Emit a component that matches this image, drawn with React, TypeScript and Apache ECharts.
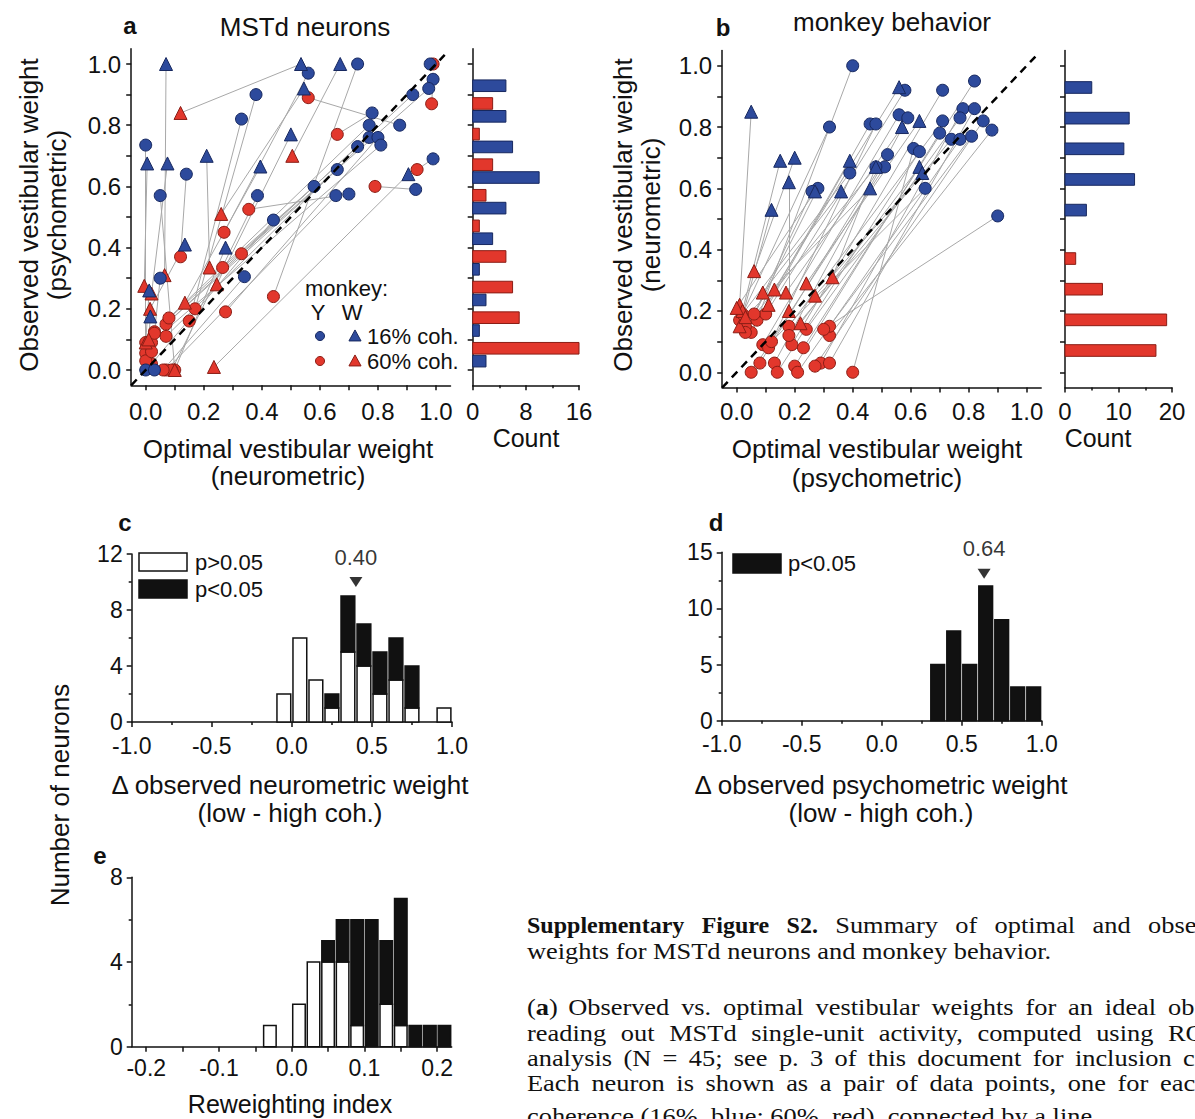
import React, { useEffect, useRef } from "react";
import * as echarts from "echarts";

const FONT = '"Liberation Sans", Arial, sans-serif';
const SERIF_NAME = "Liberation Serif";
const SERIF = '"Liberation Serif", "Times New Roman", serif';
const BLUE = "#2d4a9c";
const BLUE_EDGE = "#17285f";
const RED = "#e2372c";
const RED_EDGE = "#8a1d15";
const GRAY = "#a8a8a8";
const INK = "#111111";

// ---------- Panel a: MSTd neurons  [opt16, obs16, opt60, obs60] ----------
const neuronPairsY = [
  [0.73, 1.0, 0.44, 0.24], [0.98, 1.0, 0.99, 1.0], [0.56, 0.97, 0.27, 0.45],
  [0.38, 0.9, 0.17, 0.2], [0.99, 0.95, 0.985, 0.87], [0.975, 0.92, 0.33, 0.38],
  [0.92, 0.9, 0.07, 0.15], [0.33, 0.82, 0.15, 0.16], [0.78, 0.84, 0.66, 0.77],
  [0.77, 0.8, 0.08, 0.17], [0.875, 0.8, 0.56, 0.89], [0.77, 0.76, 0.07, 0.11],
  [0.8, 0.76, 0.275, 0.19], [0.73, 0.73, 0.03, 0.125], [0.81, 0.735, 0.02, 0.09],
  [0.0, 0.735, 0.0, 0.055], [0.14, 0.64, 0.12, 0.37], [0.99, 0.69, 0.935, 0.655],
  [0.66, 0.655, 0.0, 0.09], [0.58, 0.6, 0.265, 0.335], [0.655, 0.57, 0.07, 0.0],
  [0.7, 0.575, 0.355, 0.525], [0.93, 0.59, 0.79, 0.6], [0.05, 0.57, 0.1, 0.0],
  [0.385, 0.57, 0.09, 0.0], [0.44, 0.49, 0.02, 0.02], [0.05, 0.3, 0.03, 0.12],
  [0.34, 0.305, 0.06, 0.0], [0.0, 0.0, 0.0, 0.03], [0.03, 0.0, 0.02, 0.06],
];
const neuronPairsW = [
  [0.07, 1.0, 0.065, 0.31], [0.535, 1.0, 0.12, 0.84], [0.67, 1.0, 0.505, 0.7],
  [0.545, 0.92, 0.26, 0.51], [0.5, 0.77, 0.245, 0.28], [0.21, 0.7, 0.22, 0.335],
  [0.005, 0.675, -0.005, 0.275], [0.075, 0.675, 0.02, 0.25], [0.395, 0.665, 0.135, 0.22],
  [0.905, 0.64, 0.235, 0.01], [0.135, 0.41, 0.015, 0.2], [0.275, 0.4, 0.1, 0.0],
  [0.012, 0.26, 0.0, 0.09], [0.016, 0.175, 0.01, 0.1],
];

// ---------- Panel b: monkey behavior  [opt16, obs16, opt60, obs60] ----------
const behaviorPairsY = [
  [0.4, 1.0, 0.07, 0.17], [0.82, 0.95, 0.23, 0.08], [0.71, 0.92, 0.19, 0.09],
  [0.58, 0.92, 0.1, 0.19], [0.78, 0.86, 0.29, 0.03], [0.82, 0.86, 0.32, 0.03],
  [0.77, 0.83, 0.24, 0.14], [0.85, 0.82, 0.27, 0.02], [0.88, 0.79, 0.32, 0.12],
  [0.71, 0.82, 0.18, 0.15], [0.56, 0.84, 0.09, 0.09], [0.59, 0.83, 0.13, 0.03],
  [0.46, 0.81, 0.05, 0.13], [0.48, 0.81, 0.11, 0.08], [0.32, 0.8, 0.01, 0.17],
  [0.7, 0.78, 0.2, 0.02], [0.74, 0.76, 0.18, 0.12], [0.77, 0.76, 0.21, 0.0],
  [0.81, 0.77, 0.32, 0.15], [0.61, 0.73, 0.4, 0.0], [0.63, 0.72, 0.14, 0.0],
  [0.52, 0.71, 0.08, 0.03], [0.51, 0.67, 0.05, 0.0], [0.48, 0.67, 0.03, 0.15],
  [0.39, 0.65, 0.02, 0.19], [0.28, 0.6, 0.03, 0.13], [0.65, 0.6, 0.12, 0.1],
  [0.9, 0.51, 0.3, 0.14], [0.26, 0.59, 0.06, 0.19],
];
const behaviorPairsW = [
  [0.05, 0.85, 0.01, 0.22], [0.56, 0.93, 0.13, 0.27], [0.63, 0.82, 0.24, 0.29],
  [0.57, 0.8, 0.17, 0.26], [0.15, 0.69, 0.02, 0.2], [0.2, 0.7, 0.06, 0.33],
  [0.18, 0.62, 0.18, 0.2], [0.12, 0.53, 0.01, 0.15], [0.39, 0.69, 0.11, 0.22],
  [0.48, 0.67, 0.33, 0.31], [0.63, 0.67, 0.22, 0.16], [0.64, 0.65, 0.27, 0.25],
  [0.46, 0.6, 0.03, 0.18], [0.36, 0.59, 0.09, 0.26], [0.27, 0.59, 0.0, 0.21],
];

// ---------- Marginal histograms (bins of observed weight) ----------
const weightBins = [0.0, 0.1, 0.2, 0.3, 0.4, 0.5, 0.6, 0.7, 0.8, 0.9];
const histA16 = [2, 1, 2, 1, 3, 5, 10, 6, 5, 5];
const histA60 = [16, 7, 6, 5, 1, 2, 3, 1, 3, 0];
const histB16 = [0, 0, 0, 0, 0, 4, 13, 11, 12, 5];
const histB60 = [17, 19, 7, 2, 0, 0, 0, 0, 0, 0];

// ---------- Panel c ----------
const cBinStart = [-0.1, 0.0, 0.1, 0.2, 0.3, 0.4, 0.5, 0.6, 0.7, 0.8, 0.9];
const cBinWidth = 0.1;
const cNotSig = [2, 6, 3, 1, 5, 4, 2, 3, 1, 0, 1];
const cSig = [0, 0, 0, 1, 4, 3, 3, 3, 3, 0, 0];
const cMean = 0.4;
const cMeanHeight = 10;

// ---------- Panel d ----------
const dBinStart = [0.3, 0.4, 0.5, 0.6, 0.7, 0.8, 0.9];
const dBinWidth = 0.1;
const dSig = [5, 8, 5, 12, 9, 3, 3];
const dMean = 0.64;
const dMeanHeight = 13.1;

// ---------- Panel e ----------
const eBinStart = [-0.04, -0.02, 0.0, 0.02, 0.04, 0.06, 0.08, 0.1, 0.12, 0.14, 0.16, 0.18, 0.2];
const eBinWidth = 0.02;
const eNotSig = [1, 0, 2, 4, 4, 4, 1, 0, 2, 1, 0, 0, 0];
const eSig = [0, 0, 0, 0, 1, 2, 5, 6, 3, 6, 1, 1, 1];

// ---------- Tick values ----------
const weightTicks = [0, 0.1, 0.2, 0.3, 0.4, 0.5, 0.6, 0.7, 0.8, 0.9, 1.0];
const weightLabels = [0, 0.2, 0.4, 0.6, 0.8, 1.0];
const eTicks = [-0.2, -0.15, -0.1, -0.05, 0, 0.05, 0.1, 0.15, 0.2];
const eLabels = [-0.2, -0.1, 0, 0.1, 0.2];

// ---------- Caption (justified text, words; "*" = bold) ----------
const captionWords = [
  ["*Supplementary", "*Figure", "*S2.", "Summary", "of", "optimal", "and", "observed"],
  ["weights", "for", "MSTd", "neurons", "and", "monkey", "behavior."],
  [],
  ["(a)", "Observed", "vs.", "optimal", "vestibular", "weights", "for", "an", "ideal", "observer"],
  ["reading", "out", "MSTd", "single-unit", "activity,", "computed", "using", "ROC"],
  ["analysis", "(N", "=", "45;", "see", "p.", "3", "of", "this", "document", "for", "inclusion", "criteria)."],
  ["Each", "neuron", "is", "shown", "as", "a", "pair", "of", "data", "points,", "one", "for", "each"],
  ["coherence", "(16%,", "blue;", "60%,", "red),", "connected", "by", "a", "line."],
];
// layout: x where the last word of a justified line starts (null = ragged line)
const captionLastWordX = [1148, null, null, 1168, 1168, 1183, 1160, null];
const captionY = [925, 951, 979, 1007, 1033, 1058, 1083, 1116];
const CAPTION_SIZE = 24;
const CAPTION_SX = 1.1;
const CAPTION_LEFT = 527;

function axis(gridIndex: number, min: number, max: number, opts: any = {}) {
  const fs = opts.fontSize || 24;
  return {
    type: "value",
    gridIndex,
    min,
    max,
    interval: opts.interval,
    splitLine: { show: false },
    axisLine: { show: true, onZero: false, lineStyle: { color: INK, width: 1.5 } },
    axisTick: {
      show: true,
      length: 5,
      lineStyle: { color: INK, width: 1.5 },
      ...(opts.tickValues ? { customValues: opts.tickValues } : {}),
    },
    minorTick: opts.minor
      ? { show: true, splitNumber: 2, length: 3, lineStyle: { color: INK, width: 1.5 } }
      : { show: false },
    axisLabel: {
      show: opts.noLabel ? false : true,
      color: INK,
      fontSize: fs,
      lineHeight: fs,
      fontFamily: FONT,
      margin: opts.margin ?? 10,
      formatter: opts.fmt,
      ...(opts.labelValues ? { customValues: opts.labelValues } : {}),
    },
  };
}

const fmt1 = (v: number) => (Math.abs(v) < 1e-9 ? "0.0" : v.toFixed(1));

function hBar(color: string, edge: string, lo: number, hi: number) {
  return (params: any, api: any) => {
    const b = api.value(0);
    const c = api.value(1);
    if (!c) return null;
    const p0 = api.coord([0, b + hi]);
    const p1 = api.coord([c, b + lo]);
    return {
      type: "rect",
      shape: { x: p0[0], y: p0[1], width: p1[0] - p0[0], height: p1[1] - p0[1] },
      style: { fill: color, stroke: edge, lineWidth: 1 },
    };
  };
}

function vBar(params: any, api: any) {
  const s = api.value(0);
  const w = api.value(1);
  const ns = api.value(2);
  const sg = api.value(3);
  const inset = w * 0.07;
  const x0 = api.coord([s + inset, 0])[0];
  const x1 = api.coord([s + w - inset, 0])[0];
  const y0 = api.coord([s, 0])[1];
  const yN = api.coord([s, ns])[1];
  const yT = api.coord([s, ns + sg])[1];
  const children: any[] = [];
  if (ns > 0)
    children.push({
      type: "rect",
      shape: { x: x0, y: yN, width: x1 - x0, height: y0 - yN },
      style: { fill: "#ffffff", stroke: INK, lineWidth: 1.5 },
    });
  if (sg > 0)
    children.push({
      type: "rect",
      shape: { x: x0, y: yT, width: x1 - x0, height: yN - yT },
      style: { fill: INK, stroke: INK, lineWidth: 1.5 },
    });
  return { type: "group", children };
}

function scatterSet(pairsY: number[][], pairsW: number[][], ax: number) {
  const base = { type: "scatter", xAxisIndex: ax, yAxisIndex: ax, silent: true };
  return [
    {
      type: "lines",
      coordinateSystem: "cartesian2d",
      xAxisIndex: ax,
      yAxisIndex: ax,
      silent: true,
      lineStyle: { color: GRAY, width: 1, opacity: 1 },
      data: [...pairsY, ...pairsW].map((p) => ({ coords: [[p[0], p[1]], [p[2], p[3]]] })),
    },
    {
      type: "line",
      xAxisIndex: ax,
      yAxisIndex: ax,
      silent: true,
      showSymbol: false,
      symbol: "none",
      lineStyle: { color: "#000", width: 2.5, type: [8, 6] },
      data: [[-0.05, -0.05], [1.03, 1.03]],
    },
    {
      ...base,
      symbol: "circle",
      symbolSize: 12,
      itemStyle: { color: RED, borderColor: RED_EDGE, borderWidth: 1, opacity: 1 },
      data: pairsY.map((p) => [p[2], p[3]]),
    },
    {
      ...base,
      symbol: "triangle",
      symbolSize: 13,
      itemStyle: { color: RED, borderColor: RED_EDGE, borderWidth: 1, opacity: 1 },
      data: pairsW.map((p) => [p[2], p[3]]),
    },
    {
      ...base,
      symbol: "circle",
      symbolSize: 12,
      itemStyle: { color: BLUE, borderColor: BLUE_EDGE, borderWidth: 1, opacity: 1 },
      data: pairsY.map((p) => [p[0], p[1]]),
    },
    {
      ...base,
      symbol: "triangle",
      symbolSize: 13,
      itemStyle: { color: BLUE, borderColor: BLUE_EDGE, borderWidth: 1, opacity: 1 },
      data: pairsW.map((p) => [p[0], p[1]]),
    },
  ];
}

function histSet(h16: number[], h60: number[], ax: number) {
  return [
    {
      type: "custom",
      xAxisIndex: ax,
      yAxisIndex: ax,
      silent: true,
      encode: { x: 1, y: 0 },
      renderItem: hBar(BLUE, BLUE_EDGE, 0.01, 0.048),
      data: weightBins.map((b, i) => [b, h16[i]]),
    },
    {
      type: "custom",
      xAxisIndex: ax,
      yAxisIndex: ax,
      silent: true,
      encode: { x: 1, y: 0 },
      renderItem: hBar(RED, RED_EDGE, 0.052, 0.09),
      data: weightBins.map((b, i) => [b, h60[i]]),
    },
  ];
}

function txt(text: string, x: number, y: number, size: number, o: any = {}) {
  return {
    type: "text",
    x,
    y,
    rotation: o.rot || 0,
    silent: true,
    style: {
      text,
      fill: INK,
      fontSize: size,
      lineHeight: size,
      fontFamily: o.family || FONT,
      fontWeight: o.bold ? "bold" : "normal",
      textAlign: o.align || "center",
      textVerticalAlign: "middle",
    },
  };
}

function tri(cx: number, cy: number, s: number, fill: string, edge: string) {
  return {
    type: "polygon",
    silent: true,
    shape: { points: [[cx, cy - s * 0.55], [cx + s * 0.55, cy + s * 0.45], [cx - s * 0.55, cy + s * 0.45]] },
    style: { fill, stroke: edge, lineWidth: 1 },
  };
}

function captionGraphics(): any[] {
  const canvas = document.createElement("canvas");
  const ctx = canvas.getContext("2d") as CanvasRenderingContext2D;
  const measure = (w: string, bold: boolean) => {
    ctx.font = `${bold ? "bold " : ""}${CAPTION_SIZE}px "${SERIF_NAME}"`;
    return ctx.measureText(w).width * (bold ? 1 : CAPTION_SX);
  };
  const spaceW = measure(" ", false);
  const out: any[] = [];
  captionWords.forEach((words, li) => {
    if (!words.length) return;
    const items = words.map((w) => {
      const bold = w.startsWith("*");
      const t = bold ? w.slice(1) : w;
      return { t, bold, w: measure(t, bold) };
    });
    const target = captionLastWordX[li];
    let gap = spaceW;
    if (target != null && items.length > 1) {
      const before = items.slice(0, -1).reduce((s, it) => s + it.w, 0);
      gap = Math.max(spaceW * 0.8, (target - CAPTION_LEFT - before) / (items.length - 1));
    }
    let x = CAPTION_LEFT;
    items.forEach((it) => {
      const isA = it.t === "(a)";
      out.push({
        type: "text",
        x,
        y: captionY[li],
        scaleX: it.bold ? 1 : CAPTION_SX,
        silent: true,
        style: {
          text: isA ? "({b|a})" : it.t,
          fill: INK,
          fontSize: CAPTION_SIZE,
          lineHeight: CAPTION_SIZE,
          fontFamily: SERIF,
          fontWeight: it.bold ? "bold" : "normal",
          textAlign: "left",
          textVerticalAlign: "middle",
          rich: { b: { fontWeight: "bold", fontSize: CAPTION_SIZE, lineHeight: CAPTION_SIZE, fontFamily: SERIF, fill: INK } },
        },
      });
      x += it.w + gap;
    });
  });
  return out;
}

export default function App() {
  const ref = useRef<HTMLDivElement>(null);

  useEffect(() => {
    document.body.style.margin = "0";
    if (!ref.current) return;
    const chart = echarts.init(ref.current, null, { renderer: "svg" });

    const grids = [
      { left: 131.2, top: 48.7, width: 319.3, height: 336.6 },
      { left: 472.7, top: 48.7, width: 106.3, height: 336.6 },
      { left: 722.2, top: 50.4, width: 319, height: 337.2 },
      { left: 1065, top: 50.4, width: 107, height: 337.2 },
      { left: 131.7, top: 554, width: 320.3, height: 168 },
      { left: 721.7, top: 552.3, width: 320, height: 168.4 },
      { left: 131.7, top: 877.3, width: 320, height: 169.4 },
    ].map((g) => ({ ...g, outerBoundsMode: "none", containLabel: false, show: false }));

    const xAxis = [
      axis(0, -0.05, 1.05, { tickValues: weightTicks, labelValues: weightLabels, fmt: fmt1, margin: 14 }),
      axis(1, 0, 16, { interval: 8, minor: true, margin: 14 }),
      axis(2, -0.05, 1.05, { tickValues: weightTicks, labelValues: weightLabels, fmt: fmt1, margin: 12 }),
      axis(3, 0, 20, { interval: 10, minor: true, margin: 12 }),
      axis(4, -1, 1, { interval: 0.5, minor: true, fmt: fmt1, fontSize: 23, margin: 12 }),
      axis(5, -1, 1, { interval: 0.5, minor: true, fmt: fmt1, fontSize: 23, margin: 12 }),
      axis(6, -0.22, 0.22, { tickValues: eTicks, labelValues: eLabels, fmt: fmt1, fontSize: 23, margin: 10 }),
    ];
    const yAxis = [
      axis(0, -0.05, 1.05, { tickValues: weightTicks, labelValues: weightLabels, fmt: fmt1, margin: 10 }),
      axis(1, -0.05, 1.05, { tickValues: weightTicks, noLabel: true }),
      axis(2, -0.05, 1.05, { tickValues: weightTicks, labelValues: weightLabels, fmt: fmt1, margin: 10 }),
      axis(3, -0.05, 1.05, { tickValues: weightTicks, noLabel: true }),
      axis(4, 0, 12, { interval: 4, minor: true, fontSize: 23, margin: 9 }),
      axis(5, 0, 15, { interval: 5, minor: true, fontSize: 23, margin: 9 }),
      axis(6, 0, 8, { interval: 4, minor: true, fontSize: 23, margin: 9 }),
    ];

    const meanMarker = (ax: number, m: number, h: number) => ({
      type: "scatter",
      xAxisIndex: ax,
      yAxisIndex: ax,
      silent: true,
      symbol: "triangle",
      symbolRotate: 180,
      symbolSize: [13, 10],
      itemStyle: { color: "#000" },
      label: {
        show: true,
        position: "top",
        distance: 9,
        formatter: () => m.toFixed(2),
        color: "#000",
        fontSize: 22,
        lineHeight: 22,
        fontFamily: FONT,
      },
      data: [[m, h]],
    });

    const series: any[] = [
      ...scatterSet(neuronPairsY, neuronPairsW, 0),
      ...histSet(histA16, histA60, 1),
      ...scatterSet(behaviorPairsY, behaviorPairsW, 2),
      ...histSet(histB16, histB60, 3),
      {
        type: "custom",
        xAxisIndex: 4,
        yAxisIndex: 4,
        silent: true,
        renderItem: vBar,
        data: cBinStart.map((s, i) => [s, cBinWidth, cNotSig[i], cSig[i]]),
      },
      meanMarker(4, cMean, cMeanHeight),
      {
        type: "custom",
        xAxisIndex: 5,
        yAxisIndex: 5,
        silent: true,
        renderItem: vBar,
        data: dBinStart.map((s, i) => [s, dBinWidth, 0, dSig[i]]),
      },
      meanMarker(5, dMean, dMeanHeight),
      {
        type: "custom",
        xAxisIndex: 6,
        yAxisIndex: 6,
        silent: true,
        renderItem: vBar,
        data: eBinStart.map((s, i) => [s, eBinWidth, eNotSig[i], eSig[i]]),
      },
    ];

    const graphic: any[] = [
      // panel titles
      txt("a", 130, 25, 24, { bold: true }),
      txt("MSTd neurons", 305, 27, 26),
      txt("b", 723, 27, 24, { bold: true }),
      txt("monkey behavior", 892, 22, 26),
      txt("c", 125, 522, 24, { bold: true }),
      txt("d", 716, 522, 24, { bold: true }),
      txt("e", 100, 855, 24, { bold: true }),
      // axis titles a
      txt("Observed vestibular weight", 29, 215, 26, { rot: Math.PI / 2 }),
      txt("(psychometric)", 57, 215, 26, { rot: Math.PI / 2 }),
      txt("Optimal vestibular weight", 288, 449, 26),
      txt("(neurometric)", 288, 476, 26),
      txt("Count", 526, 438, 25),
      // axis titles b
      txt("Observed vestibular weight", 623, 215, 26, { rot: Math.PI / 2 }),
      txt("(neurometric)", 651, 215, 26, { rot: Math.PI / 2 }),
      txt("Optimal vestibular weight", 877, 449, 26),
      txt("(psychometric)", 877, 478, 26),
      txt("Count", 1098, 438, 25),
      // c, d, e titles
      txt("\u0394 observed neurometric weight", 290, 785, 26),
      txt("(low - high coh.)", 290, 813, 26),
      txt("\u0394 observed psychometric weight", 881, 785, 26),
      txt("(low - high coh.)", 881, 813, 26),
      txt("Reweighting index", 290, 1104, 25),
      txt("Number of neurons", 60, 795, 26, { rot: Math.PI / 2 }),
      // legend a
      txt("monkey:", 305, 288, 22, { align: "left" }),
      txt("Y", 318, 312, 22),
      txt("W", 352, 312, 22),
      { type: "circle", silent: true, shape: { cx: 320, cy: 336, r: 4.5 }, style: { fill: BLUE, stroke: BLUE_EDGE, lineWidth: 1 } },
      tri(355, 336, 11, BLUE, BLUE_EDGE),
      txt("16% coh.", 367, 336, 22, { align: "left" }),
      { type: "circle", silent: true, shape: { cx: 320, cy: 361, r: 4.5 }, style: { fill: RED, stroke: RED_EDGE, lineWidth: 1 } },
      tri(355, 361, 11, RED, RED_EDGE),
      txt("60% coh.", 367, 361, 22, { align: "left" }),
      // legend c
      { type: "rect", silent: true, shape: { x: 139, y: 553, width: 48, height: 18 }, style: { fill: "#fff", stroke: INK, lineWidth: 1.5 } },
      { type: "rect", silent: true, shape: { x: 139, y: 580, width: 48, height: 18 }, style: { fill: INK, stroke: INK, lineWidth: 1.5 } },
      txt("p>0.05", 195, 562, 22, { align: "left" }),
      txt("p<0.05", 195, 589, 22, { align: "left" }),
      // legend d
      { type: "rect", silent: true, shape: { x: 733, y: 554, width: 48, height: 19 }, style: { fill: INK, stroke: INK, lineWidth: 1.5 } },
      txt("p<0.05", 788, 563, 22, { align: "left" }),
      // caption
      ...captionGraphics(),
    ];

    chart.setOption({
      animation: false,
      backgroundColor: "#ffffff",
      grid: grids,
      xAxis,
      yAxis,
      series,
      graphic,
    });

    return () => chart.dispose();
  }, []);

  return <div ref={ref} style={{ width: 1195, height: 1119 }} />;
}
